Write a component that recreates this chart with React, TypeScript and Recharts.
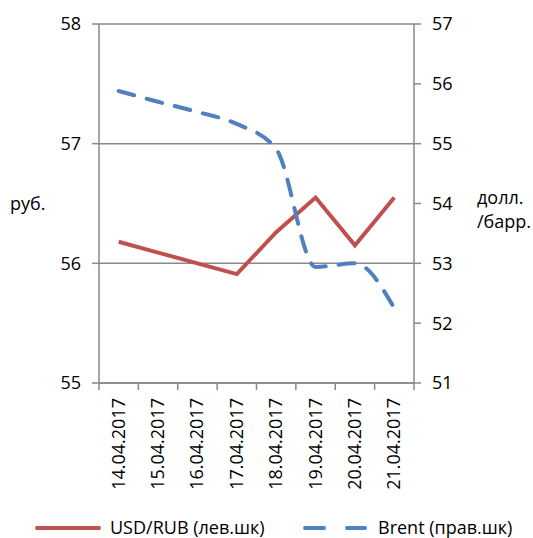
import React from 'react';
import { LineChart, Line, XAxis, YAxis, CartesianGrid } from 'recharts';

const dates = [
  '14.04.2017',
  '15.04.2017',
  '16.04.2017',
  '17.04.2017',
  '18.04.2017',
  '19.04.2017',
  '20.04.2017',
  '21.04.2017',
];
const usdRub = [56.18, 56.09, 56.0, 55.91, 56.26, 56.55, 56.15, 56.55];
const brent = [55.88, 55.7, 55.53, 55.33, 54.91, 52.94, 53.0, 52.25];
const leftTicks = [55, 56, 57, 58];
const rightTicks = [51, 52, 53, 54, 55, 56, 57];

const data = dates.map((d, i) => ({ date: d, usd: usdRub[i], brent: brent[i] }));

const FONT = '"Open Sans", sans-serif';
const FS = 18;
const AXIS = '#898989';
const RED = '#C0504D';
const BLUE = '#4F81BD';
// half of one category band, so points sit in the middle of each band
const HALF_BAND = 315 / dates.length / 2;

function DateTick(props: any) {
  const { x, y, payload, index } = props;
  const bw = HALF_BAND * 2;
  return (
    <g>
      <line x1={x - bw / 2} y1={y} x2={x - bw / 2} y2={y + 7} stroke={AXIS} strokeWidth={1.5} />
      {index === dates.length - 1 && (
        <line x1={x + bw / 2} y1={y} x2={x + bw / 2} y2={y + 7} stroke={AXIS} strokeWidth={1.5} />
      )}
      <text
        x={0}
        y={0}
        transform={`translate(${x + 6}, ${y + 15}) rotate(-90)`}
        textAnchor="end"
        fontFamily={FONT}
        fontSize={FS}
        fill="#000"
      >
        {payload.value}
      </text>
    </g>
  );
}

function LegendBox() {
  return (
    <svg width={533} height={30} style={{ position: 'absolute', left: 0, top: 514 }}>
      <line x1={37} y1={14} x2={99} y2={14} stroke={RED} strokeWidth={4} strokeLinecap="round" />
      <line x1={305} y1={14} x2={365} y2={14} stroke={BLUE} strokeWidth={4} strokeLinecap="round" strokeDasharray="19 23" />
      <text x={110} y={20} fontFamily={FONT} fontSize={FS}>USD/RUB (лев.шк)</text>
      <text x={378} y={20} fontFamily={FONT} fontSize={FS}>Brent (прав.шк)</text>
    </svg>
  );
}

export default function App() {
  return (
    <div style={{ position: 'absolute', left: 0, top: 0, width: 533, height: 538, background: '#fff', overflow: 'hidden' }}>
      <LineChart
        width={533}
        height={538}
        data={data}
        margin={{ top: 24, right: 60, left: 50, bottom: 45 }}
      >
        <CartesianGrid yAxisId="left" vertical={false} stroke={AXIS} strokeWidth={1.5} />
        <XAxis
          dataKey="date"
          interval={0}
          height={110}
          padding={{ left: HALF_BAND, right: HALF_BAND }}
          axisLine={{ stroke: AXIS, strokeWidth: 1.5 }}
          tickLine={false}
          tickSize={0}
          tickMargin={0}
          tick={<DateTick />}
        />
        <YAxis
          yAxisId="left"
          domain={[55, 58]}
          ticks={leftTicks}
          width={49}
          axisLine={{ stroke: AXIS, strokeWidth: 1.5 }}
          tickLine={{ stroke: AXIS, strokeWidth: 1.5 }}
          tickSize={7}
          tickMargin={11}
          tick={{ fontFamily: FONT, fontSize: FS, fill: '#000' }}
        />
        <YAxis
          yAxisId="right"
          orientation="right"
          domain={[51, 57]}
          ticks={rightTicks}
          width={59}
          axisLine={{ stroke: AXIS, strokeWidth: 1.5 }}
          tickLine={{ stroke: AXIS, strokeWidth: 1.5 }}
          tickSize={7}
          tickMargin={11}
          tick={{ fontFamily: FONT, fontSize: FS, fill: '#000' }}
        />
        <Line
          yAxisId="left"
          type="linear"
          dataKey="usd"
          stroke={RED}
          strokeWidth={4}
          dot={false}
          activeDot={false}
          isAnimationActive={false}
        />
        <Line
          yAxisId="right"
          type="monotone"
          dataKey="brent"
          stroke={BLUE}
          strokeWidth={4}
          strokeDasharray="16 13"
          strokeLinecap="round"
          dot={false}
          activeDot={false}
          isAnimationActive={false}
        />
      </LineChart>
      <div style={{ position: 'absolute', left: 10, top: 191, fontFamily: FONT, fontSize: FS }}>руб.</div>
      <div style={{ position: 'absolute', left: 477, top: 185, fontFamily: FONT, fontSize: FS, lineHeight: '24px' }}>
        долл.
        <br />
        /барр.
      </div>
      <LegendBox />
    </div>
  );
}
